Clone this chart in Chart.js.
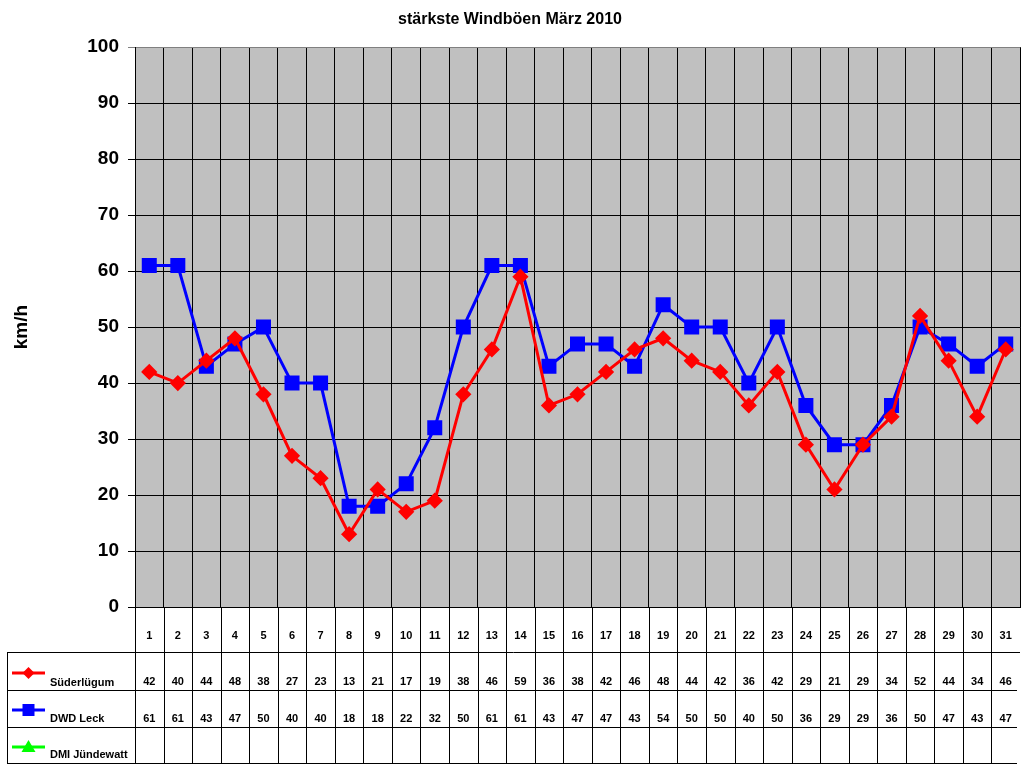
<!DOCTYPE html>
<html>
<head>
<meta charset="utf-8">
<script src="https://cdn.jsdelivr.net/npm/chart.js@4/dist/chart.umd.min.js"></script>
<style>
  html, body { margin: 0; padding: 0; background: #fff; }
  canvas { display: block; }
</style>
</head>
<body>
<canvas id="wind" width="1024" height="768"></canvas>
<script>
const days = ['1','2','3','4','5','6','7','8','9','10','11','12','13','14','15','16',
  '17','18','19','20','21','22','23','24','25','26','27','28','29','30','31'];
const suederluegum = [42,40,44,48,38,27,23,13,21,17,19,38,46,59,36,38,42,46,48,44,42,36,42,29,21,29,34,52,44,34,46];
const dwdLeck = [61,61,43,47,50,40,40,18,18,22,32,50,61,61,43,47,47,43,54,50,50,40,50,36,29,29,36,50,47,43,47];
const dmiJuendewatt = []; // no values this month
const yTicks = [0,10,20,30,40,50,60,70,80,90,100];

const FONT = 'Liberation Sans, Arial, sans-serif';

// grey plot background
const plotBg = {
  id: 'plotBg',
  beforeDraw(chart) {
    const { ctx, chartArea: a } = chart;
    ctx.save();
    ctx.fillStyle = '#C0C0C0';
    ctx.fillRect(a.left, a.top, a.right - a.left, a.bottom - a.top);
    ctx.restore();
  }
};

// data table under the plot, columns taken from the x scale
const dataTable = {
  id: 'dataTable',
  afterDraw(chart) {
    const { ctx, scales: { x } } = chart;
    const w = (x.right - x.left) / days.length;
    const top = chart.chartArea.bottom;
    const rows = [top + 45, top + 83, top + 120, top + 156];
    const tableLeft = 7;

    ctx.save();
    ctx.strokeStyle = '#000';
    ctx.lineWidth = 1;
    ctx.beginPath();
    // horizontal lines
    ctx.moveTo(tableLeft, rows[0] + 0.5); ctx.lineTo(x.right, rows[0] + 0.5);
    for (let r = 1; r < rows.length; r++) {
      ctx.moveTo(tableLeft, rows[r] + 0.5); ctx.lineTo(x.right - 3, rows[r] + 0.5);
    }
    // vertical lines
    ctx.moveTo(tableLeft + 0.5, rows[0]); ctx.lineTo(tableLeft + 0.5, rows[3]);
    for (let i = 0; i < days.length; i++) {
      const lx = Math.round(x.getPixelForValue(i) - w / 2) + 0.5;
      ctx.moveTo(lx, top); ctx.lineTo(lx, rows[3]);
    }
    ctx.stroke();

    ctx.fillStyle = '#000';
    ctx.font = 'bold 11px ' + FONT;
    ctx.textAlign = 'center';
    ctx.textBaseline = 'middle';
    days.forEach((d, i) => {
      const cx = x.getPixelForValue(i);
      ctx.fillText(d, cx, top + 29);
      if (suederluegum[i] != null) ctx.fillText(String(suederluegum[i]), cx, rows[1] - 8);
      if (dwdLeck[i] != null) ctx.fillText(String(dwdLeck[i]), cx, rows[2] - 8);
      if (dmiJuendewatt[i] != null) ctx.fillText(String(dmiJuendewatt[i]), cx, rows[3] - 8);
    });

    // legend keys in the first column
    const keys = [
      { label: 'Süderlügum', color: '#FF0000', shape: 'diamond', y: rows[0] + 21, ty: rows[1] - 7 },
      { label: 'DWD Leck', color: '#0000FF', shape: 'square', y: rows[1] + 20, ty: rows[2] - 8 },
      { label: 'DMI Jündewatt', color: '#00FF00', shape: 'triangle', y: rows[2] + 20, ty: rows[3] - 8 }
    ];
    keys.forEach(k => {
      ctx.strokeStyle = k.color;
      ctx.fillStyle = k.color;
      ctx.lineWidth = 3;
      ctx.beginPath();
      ctx.moveTo(12, k.y); ctx.lineTo(45, k.y);
      ctx.stroke();
      const cx = 28.5;
      ctx.beginPath();
      if (k.shape === 'diamond') {
        ctx.moveTo(cx, k.y - 6); ctx.lineTo(cx + 6, k.y); ctx.lineTo(cx, k.y + 6); ctx.lineTo(cx - 6, k.y);
      } else if (k.shape === 'square') {
        ctx.rect(cx - 6, k.y - 6, 12, 12);
      } else {
        ctx.moveTo(cx, k.y - 7); ctx.lineTo(cx + 7, k.y + 5); ctx.lineTo(cx - 7, k.y + 5);
      }
      ctx.closePath();
      ctx.fill();
      ctx.fillStyle = '#000';
      ctx.textAlign = 'left';
      ctx.fillText(k.label, 50, k.ty);
    });
    ctx.restore();
  }
};

new Chart(document.getElementById('wind'), {
  type: 'line',
  data: {
    labels: days,
    datasets: [
      {
        label: 'Süderlügum',
        data: suederluegum,
        borderColor: '#FF0000',
        backgroundColor: '#FF0000',
        borderWidth: 3,
        pointStyle: 'rectRot',
        pointRadius: 6,
        pointHoverRadius: 6,
        tension: 0
      },
      {
        label: 'DWD Leck',
        data: dwdLeck,
        borderColor: '#0000FF',
        backgroundColor: '#0000FF',
        borderWidth: 3,
        pointStyle: 'rect',
        pointRadius: 8.5,
        pointHoverRadius: 8.5,
        tension: 0
      },
      {
        label: 'DMI Jündewatt',
        data: dmiJuendewatt,
        borderColor: '#00FF00',
        backgroundColor: '#00FF00',
        borderWidth: 3,
        pointStyle: 'triangle',
        pointRadius: 7
      }
    ]
  },
  options: {
    responsive: false,
    animation: false,
    devicePixelRatio: 1,
    layout: { autoPadding: false, padding: { left: 0, right: 4, top: 0, bottom: 161 } },
    plugins: {
      legend: { display: false },
      tooltip: { enabled: false },
      title: {
        display: true,
        text: 'stärkste Windböen März 2010',
        color: '#000',
        font: { family: FONT, size: 16, weight: 'bold' },
        padding: { top: 10, bottom: 18 }
      }
    },
    scales: {
      x: {
        offset: true,
        grid: { color: '#000', offset: true, drawTicks: false },
        border: { color: '#000' },
        ticks: { display: false },
        afterFit(scale) { scale.height = 0; }
      },
      y: {
        min: 0,
        max: 100,
        afterBuildTicks(scale) { scale.ticks = yTicks.map(v => ({ value: v })); },
        afterFit(scale) { scale.width = 135; },
        grid: {
          color: ctx => (ctx.tick && ctx.tick.value === 100 ? '#808080' : '#000'),
          tickLength: 7
        },
        border: { color: '#000' },
        ticks: {
          color: '#000',
          padding: 9,
          font: { family: FONT, size: 19, weight: 'bold' }
        },
        title: {
          display: true,
          text: 'km/h',
          color: '#000',
          font: { family: FONT, size: 19, weight: 'bold' },
          padding: { top: 10, bottom: 0 }
        }
      }
    }
  },
  plugins: [plotBg, dataTable]
});
</script>
</body>
</html>
